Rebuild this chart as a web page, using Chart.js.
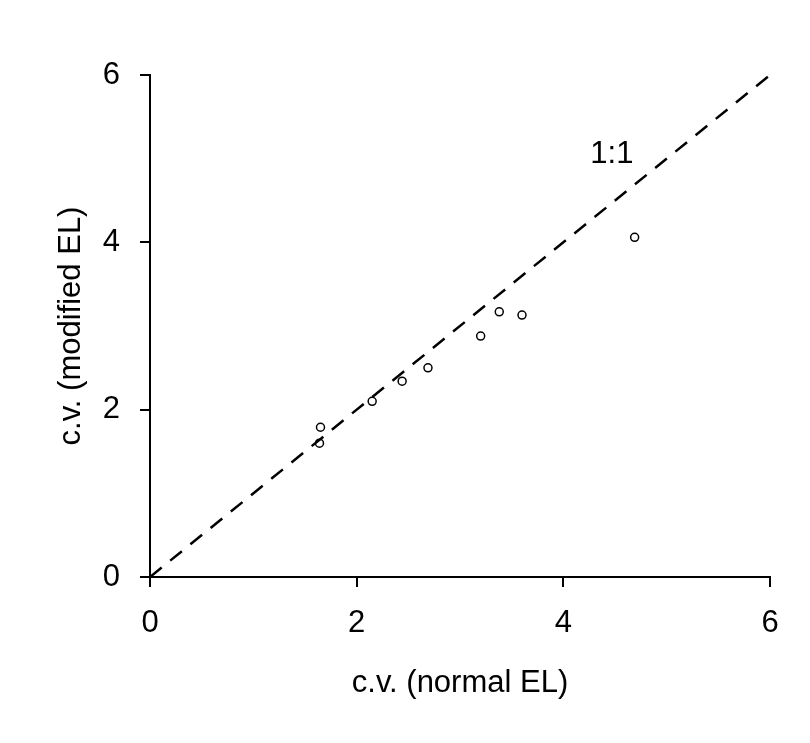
<!DOCTYPE html>
<html>
<head>
<meta charset="utf-8">
<script src="https://cdn.jsdelivr.net/npm/chart.js@4.4.1/dist/chart.umd.min.js"></script>
<style>
  body { margin: 0; background: #fff; }
  canvas { display: block; }
</style>
</head>
<body>
<canvas id="cv-chart" width="810" height="743"></canvas>
<script>
// c.v. values
var normalEL   = [1.64, 1.65, 2.15, 2.44, 2.69, 3.20, 3.38, 3.60, 4.69];
var modifiedEL = [1.60, 1.79, 2.10, 2.34, 2.50, 2.88, 3.17, 3.13, 4.06];
var oneToOneX  = [0, 6];
var oneToOneY  = [0, 6];
var tickValues = [0, 2, 4, 6];
var lineLabel  = '1:1';
var labelAt    = [4.47, 5.05]; // where "1:1" sits, in data units

var points = [];
for (var i = 0; i < normalEL.length; i++) {
    points.push({ x: normalEL[i], y: modifiedEL[i] });
}
var refLine = [];
for (var j = 0; j < oneToOneX.length; j++) {
    refLine.push({ x: oneToOneX[j], y: oneToOneY[j] });
}

var font = { family: '"Liberation Sans", Arial, sans-serif', size: 31 };

// writes the 1:1 label next to the dashed line
var lineLabelPlugin = {
    id: 'lineLabel',
    afterDatasetsDraw: function (chart) {
        var ctx = chart.ctx;
        var x = chart.scales.x.getPixelForValue(labelAt[0]);
        var y = chart.scales.y.getPixelForValue(labelAt[1]);
        ctx.save();
        ctx.font = '31px "Liberation Sans", Arial, sans-serif';
        ctx.fillStyle = '#000';
        ctx.textAlign = 'center';
        ctx.textBaseline = 'middle';
        ctx.fillText(lineLabel, x, y);
        ctx.restore();
    }
};

var axisBase = function (title, pad) {
    return {
        type: 'linear',
        min: 0,
        max: 6,
        afterBuildTicks: function (scale) {
            scale.ticks = tickValues.map(function (v) { return { value: v }; });
        },
        grid: {
            display: true,
            drawOnChartArea: false,
            drawTicks: true,
            tickLength: 10,
            color: '#000',
            lineWidth: 2
        },
        border: { display: true, color: '#000', width: 2 },
        ticks: { color: '#000', font: font, padding: pad },
        title: { display: true, text: title, color: '#000', font: font }
    };
};

var xAxis = axisBase('c.v. (normal EL)', 18);
xAxis.title.padding = { top: 0, bottom: 41 };
xAxis.afterFit = function (scale) { scale.height = 166; };

var yAxis = axisBase('c.v. (modified EL)', 20);
yAxis.title.padding = { top: 53, bottom: 0 };
yAxis.afterFit = function (scale) { scale.width = 150; };

new Chart(document.getElementById('cv-chart').getContext('2d'), {
    type: 'scatter',
    data: {
        datasets: [
            {
                type: 'line',
                data: refLine,
                borderColor: '#000',
                borderWidth: 2.5,
                borderDash: [15, 11],
                pointRadius: 0,
                fill: false
            },
            {
                data: points,
                pointStyle: 'circle',
                pointRadius: 4,
                pointBorderWidth: 1.5,
                pointBorderColor: '#000',
                pointBackgroundColor: '#fff'
            }
        ]
    },
    options: {
        responsive: false,
        animation: false,
        layout: { padding: { left: 0, top: 75, right: 40, bottom: 0 } },
        plugins: {
            legend: { display: false },
            tooltip: { enabled: false }
        },
        scales: { x: xAxis, y: yAxis }
    },
    plugins: [lineLabelPlugin]
});
</script>
</body>
</html>
